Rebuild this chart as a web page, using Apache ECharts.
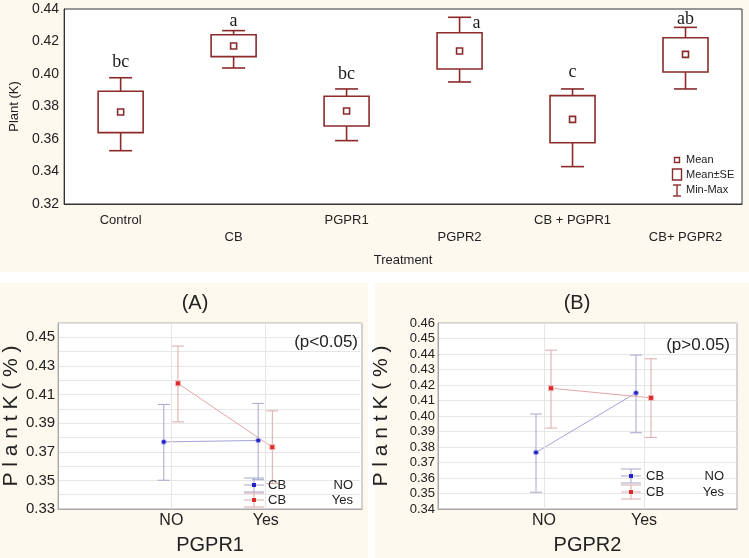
<!DOCTYPE html>
<html><head><meta charset="utf-8">
<script src="https://cdn.jsdelivr.net/npm/echarts@6/dist/echarts.min.js"></script>
<style>
html,body{margin:0;padding:0;background:#ffffff;}
.bg{position:absolute;background:#fdf9ee;}
#c{position:absolute;left:0;top:0;width:749px;height:558px;}
</style>
</head><body>
<div class="bg" style="left:0;top:0;width:749px;height:272px"></div>
<div class="bg" style="left:0;top:283px;width:368px;height:275px"></div>
<div class="bg" style="left:375px;top:283px;width:374px;height:275px"></div>
<div id="c"></div>
<script>
// ---------- Top chart data (Plant K by treatment) ----------
const treatments = ['Control', 'CB', 'PGPR1', 'PGPR2', 'CB + PGPR1', 'CB+ PGPR2'];
const meanK  = [0.3766, 0.4172, 0.3772, 0.4142, 0.3721, 0.4121];
const seLow  = [0.3639, 0.4107, 0.3680, 0.4031, 0.3577, 0.4012];
const seHigh = [0.3894, 0.4242, 0.3863, 0.4254, 0.3867, 0.4223];
const minK   = [0.3528, 0.4037, 0.3590, 0.3951, 0.3430, 0.3908];
const maxK   = [0.3977, 0.4267, 0.3908, 0.4349, 0.3908, 0.4287];
const letters = ['bc', 'a', 'bc', 'a', 'c', 'ab'];

// ---------- Interaction plots ----------
const levels = ['NO', 'Yes'];
// Panel A: PGPR1
const aCbNoMean  = [0.3769, 0.3779];
const aCbNoLow   = [0.3501, 0.3505];
const aCbNoHigh  = [0.4031, 0.4038];
const aCbYesMean = [0.4178, 0.3732];
const aCbYesLow  = [0.3909, 0.3478];
const aCbYesHigh = [0.4439, 0.3986];
// Panel B: PGPR2
const bCbNoMean  = [0.3765, 0.4149];
const bCbNoLow   = [0.3508, 0.3892];
const bCbNoHigh  = [0.4013, 0.4393];
const bCbYesMean = [0.4179, 0.4117];
const bCbYesLow  = [0.3922, 0.3862];
const bCbYesHigh = [0.4425, 0.4369];

// ---------- styling / layout ----------
const boxColor = '#8c2a2a';
const letterOffset = [[0, -15], [0, -9], [0, -15], [17, 6], [0, -17], [0, -8]];
const blueMark = '#2323c8', blueLine = '#a3a3dc', blueBar = '#a6a6cc';
const redMark = '#dd2a2a', redLine = '#e2a6a6', redBar = '#dcaaaa';
const shiftNo = -0.08, shiftYes = 0.07;

const chart = echarts.init(document.getElementById('c'), null, {renderer: 'canvas'});

function boxRender(params, api) {
  const i = api.value(0);
  const c = (v) => api.coord([i, v]);
  const xc = c(api.value(1))[0];
  const yMean = c(api.value(1))[1];
  const ySL = c(api.value(2))[1], ySH = c(api.value(3))[1];
  const yMin = c(api.value(4))[1], yMax = c(api.value(5))[1];
  const bw = 45, cw = 23, ms = 6;
  const ls = {stroke: boxColor, lineWidth: 1.6, fill: null};
  const off = letterOffset[i];
  return {
    type: 'group',
    children: [
      {type: 'line', shape: {x1: xc, y1: yMax, x2: xc, y2: ySH}, style: ls},
      {type: 'line', shape: {x1: xc - cw / 2, y1: yMax, x2: xc + cw / 2, y2: yMax}, style: ls},
      {type: 'line', shape: {x1: xc, y1: ySL, x2: xc, y2: yMin}, style: ls},
      {type: 'line', shape: {x1: xc - cw / 2, y1: yMin, x2: xc + cw / 2, y2: yMin}, style: ls},
      {type: 'rect', shape: {x: xc - bw / 2, y: ySH, width: bw, height: ySL - ySH}, style: {stroke: boxColor, lineWidth: 1.6, fill: null}},
      {type: 'rect', shape: {x: xc - ms / 2, y: yMean - ms / 2, width: ms, height: ms}, style: {stroke: boxColor, lineWidth: 1.6, fill: '#fff'}},
      {type: 'text', x: xc + off[0], y: yMax + off[1], style: {text: letters[i], fill: '#1a1a1a', font: '18px "Liberation Serif", "DejaVu Serif", serif', align: 'center', verticalAlign: 'middle'}}
    ]
  };
}

function errRender(color) {
  return function (params, api) {
    const x = api.value(0);
    const pm = api.coord([x, api.value(1)]);
    const pl = api.coord([x, api.value(2)]);
    const ph = api.coord([x, api.value(3)]);
    const w = 6;
    const st = {stroke: color, lineWidth: 1};
    return {
      type: 'group',
      children: [
        {type: 'line', shape: {x1: pm[0], y1: ph[1], x2: pm[0], y2: pl[1]}, style: st},
        {type: 'line', shape: {x1: pm[0] - w, y1: ph[1], x2: pm[0] + w, y2: ph[1]}, style: st},
        {type: 'line', shape: {x1: pm[0] - w, y1: pl[1], x2: pm[0] + w, y2: pl[1]}, style: st}
      ]
    };
  };
}

function errData(mean, low, high, shift) {
  return levels.map((l, k) => [k + 1 + shift, mean[k], low[k], high[k]]);
}
function lineData(mean, shift) {
  return levels.map((l, k) => [k + 1 + shift, mean[k]]);
}

const axisFont = '"Liberation Sans", Arial, sans-serif';

function panelXAxis(gridIndex, min, max, name) {
  return {
    type: 'value', gridIndex, min, max,
    axisLine: {show: true, onZero: false, lineStyle: {color: '#a8a8a8'}},
    axisTick: {show: false},
    splitLine: {show: false},
    axisLabel: {customValues: [1, 2], formatter: (v) => levels[Math.round(v) - 1] || '', fontSize: 16, color: '#222', fontFamily: axisFont, margin: 4},
    name, nameLocation: 'middle', nameGap: 26,
    nameTextStyle: {fontSize: 20, color: '#222', fontFamily: axisFont}
  };
}
function panelYAxis(gridIndex, min, max, oddOnly, fontSize, nameGap) {
  return {
    type: 'value', gridIndex, min, max, interval: 0.01,
    axisLine: {show: true, onZero: false, lineStyle: {color: '#a8a8a8'}},
    axisTick: {show: false},
    splitLine: {show: true, lineStyle: {color: '#e6e6e6', width: 1}},
    axisLabel: {
      fontSize, color: '#222', fontFamily: axisFont, margin: 3,
      formatter: (v) => {
        const h = Math.round(v * 100);
        if (oddOnly && h % 2 === 0) return '';
        return (h / 100).toFixed(2);
      }
    },
    name: 'P l a n t K ( % )', nameLocation: 'middle', nameGap, nameRotate: 90,
    nameTextStyle: {fontSize: 21, color: '#222', fontFamily: axisFont}
  };
}

function panelSeries(idx, noMean, noLow, noHigh, yesMean, yesLow, yesHigh) {
  return [
    {
      type: 'line', xAxisIndex: idx, yAxisIndex: idx, data: [], z: 1, silent: true,
      markLine: {silent: true, symbol: 'none', label: {show: false},
        lineStyle: {color: '#e6e6e6', type: 'solid', width: 1},
        data: levels.map((l, k) => ({xAxis: k + 1}))}
    },
    {type: 'custom', xAxisIndex: idx, yAxisIndex: idx, renderItem: errRender(blueBar), data: errData(noMean, noLow, noHigh, shiftNo), z: 3},
    {type: 'custom', xAxisIndex: idx, yAxisIndex: idx, renderItem: errRender(redBar), data: errData(yesMean, yesLow, yesHigh, shiftYes), z: 3},
    {type: 'line', xAxisIndex: idx, yAxisIndex: idx, data: lineData(noMean, shiftNo), z: 4,
      symbol: 'circle', symbolSize: 5, lineStyle: {color: blueLine, width: 1},
      itemStyle: {color: blueMark, borderColor: '#b8b8e8', borderWidth: 1}},
    {type: 'line', xAxisIndex: idx, yAxisIndex: idx, data: lineData(yesMean, shiftYes), z: 4,
      symbol: 'rect', symbolSize: 5, lineStyle: {color: redLine, width: 1},
      itemStyle: {color: redMark, borderColor: '#efb8b8', borderWidth: 1}}
  ];
}

function panelLegend(cx, y1, y2, xCb, xRight) {
  const els = [];
  const rows = [[y1, blueMark, blueBar, 'NO'], [y2, redMark, redBar, 'Yes']];
  rows.forEach(([y, mc, bc, lab]) => {
    const st = {stroke: bc, lineWidth: 1};
    els.push({type: 'line', shape: {x1: cx - 10, y1: y - 7, x2: cx + 10, y2: y - 7}, style: st, z: 10});
    els.push({type: 'line', shape: {x1: cx - 10, y1: y, x2: cx + 10, y2: y}, style: st, z: 10});
    els.push({type: 'line', shape: {x1: cx - 10, y1: y + 7, x2: cx + 10, y2: y + 7}, style: st, z: 10});
    els.push({type: 'line', shape: {x1: cx, y1: y - 7, x2: cx, y2: y + 7}, style: st, z: 10});
    els.push({type: 'rect', shape: {x: cx - 2, y: y - 2, width: 4, height: 4}, style: {fill: mc}, z: 11});
    els.push({type: 'text', x: xCb, y, style: {text: 'CB', font: '13px ' + axisFont, fill: '#222', verticalAlign: 'middle'}, z: 11});
    els.push({type: 'text', x: xRight, y, style: {text: lab, font: '13px ' + axisFont, fill: '#222', align: 'right', verticalAlign: 'middle'}, z: 11});
  });
  return els;
}

const topLegend = [
  {type: 'rect', shape: {x: 674.5, y: 157.5, width: 5, height: 5}, style: {stroke: boxColor, lineWidth: 1.4, fill: '#fff'}, z: 10},
  {type: 'rect', shape: {x: 672.5, y: 169, width: 9, height: 11}, style: {stroke: boxColor, lineWidth: 1.4, fill: '#fff'}, z: 10},
  {type: 'line', shape: {x1: 677, y1: 185, x2: 677, y2: 196}, style: {stroke: boxColor, lineWidth: 1.4}, z: 10},
  {type: 'line', shape: {x1: 673, y1: 185, x2: 681, y2: 185}, style: {stroke: boxColor, lineWidth: 1.4}, z: 10},
  {type: 'line', shape: {x1: 673, y1: 196, x2: 681, y2: 196}, style: {stroke: boxColor, lineWidth: 1.4}, z: 10},
  {type: 'text', x: 686, y: 160, style: {text: 'Mean', font: '11px ' + axisFont, fill: '#222', verticalAlign: 'middle'}, z: 10},
  {type: 'text', x: 686, y: 175, style: {text: 'Mean±SE', font: '11px ' + axisFont, fill: '#222', verticalAlign: 'middle'}, z: 10},
  {type: 'text', x: 686, y: 190, style: {text: 'Min-Max', font: '11px ' + axisFont, fill: '#222', verticalAlign: 'middle'}, z: 10}
];

const option = {
  backgroundColor: 'transparent',
  animation: false,
  grid: [
    {left: 58, top: 9, width: 684, height: 195, show: true, backgroundColor: '#ffffff', borderColor: '#333', borderWidth: 1},
    {left: 43, top: 323, width: 319, height: 186, show: true, backgroundColor: '#ffffff', borderColor: '#a8a8a8', borderWidth: 1},
    {left: 438, top: 323, width: 299, height: 186, show: true, backgroundColor: '#ffffff', borderColor: '#a8a8a8', borderWidth: 1}
  ],
  xAxis: [
    {
      type: 'category', gridIndex: 0, data: treatments,
      axisLine: {lineStyle: {color: '#333'}},
      axisTick: {alignWithLabel: true, inside: true, length: 3, lineStyle: {color: '#333'}},
      axisLabel: {
        interval: 0, margin: 8, color: '#222', fontSize: 13, fontFamily: axisFont, lineHeight: 17,
        formatter: (v, i) => (i % 2 ? '\n' + v : v)
      },
      name: 'Treatment', nameLocation: 'middle', nameGap: 50,
      nameTextStyle: {fontSize: 13, color: '#222', fontFamily: axisFont}
    },
    panelXAxis(1, -0.2, 3.02, 'PGPR1'),
    panelXAxis(2, -0.06, 2.93, 'PGPR2')
  ],
  yAxis: [
    {
      type: 'value', gridIndex: 0, min: 0.32, max: 0.44, interval: 0.02,
      axisLine: {show: true, lineStyle: {color: '#333'}},
      axisTick: {show: false},
      splitLine: {show: false},
      axisLabel: {formatter: (v) => v.toFixed(2), fontSize: 14, color: '#222', fontFamily: axisFont, margin: 5},
      name: 'Plant (K)', nameLocation: 'middle', nameGap: 42, nameRotate: 90,
      nameTextStyle: {fontSize: 13, color: '#222', fontFamily: axisFont}
    },
    panelYAxis(1, 0.33, 0.46, true, 15, 29),
    panelYAxis(2, 0.34, 0.46, false, 13, 46)
  ],
  graphic: [
    ...topLegend,
    ...panelLegend(254, 485, 500, 268, 353),
    ...panelLegend(631, 476, 492, 646, 724),
    {type: 'text', x: 195, y: 303, style: {text: '(A)', font: '20px ' + axisFont, fill: '#222', align: 'center', verticalAlign: 'middle'}},
    {type: 'text', x: 577, y: 303, style: {text: '(B)', font: '20px ' + axisFont, fill: '#222', align: 'center', verticalAlign: 'middle'}},
    {type: 'text', x: 358, y: 342, style: {text: '(p<0.05)', font: '17px ' + axisFont, fill: '#222', align: 'right', verticalAlign: 'middle'}, z: 10},
    {type: 'text', x: 730, y: 345, style: {text: '(p>0.05)', font: '17px ' + axisFont, fill: '#222', align: 'right', verticalAlign: 'middle'}, z: 10}
  ],
  series: [
    {
      type: 'custom', xAxisIndex: 0, yAxisIndex: 0, renderItem: boxRender,
      data: treatments.map((t, i) => [i, meanK[i], seLow[i], seHigh[i], minK[i], maxK[i]])
    },
    ...panelSeries(1, aCbNoMean, aCbNoLow, aCbNoHigh, aCbYesMean, aCbYesLow, aCbYesHigh),
    ...panelSeries(2, bCbNoMean, bCbNoLow, bCbNoHigh, bCbYesMean, bCbYesLow, bCbYesHigh)
  ]
};
chart.setOption(option);
</script>
</body></html>
